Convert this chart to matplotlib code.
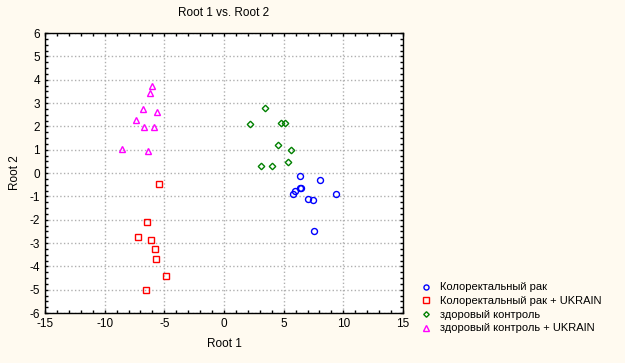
import matplotlib.pyplot as plt
from matplotlib.ticker import MultipleLocator

plt.rcParams['font.family'] = ['Liberation Sans', 'DejaVu Sans']
plt.rcParams['axes.unicode_minus'] = False

# data
kr_x = [6.40, 8.08, 6.46, 6.35, 5.98, 5.79, 9.42, 7.07, 7.49, 7.55]
kr_y = [-0.12, -0.31, -0.66, -0.66, -0.76, -0.89, -0.91, -1.12, -1.16, -2.50]

kru_x = [-5.42, -6.45, -7.20, -6.09, -5.78, -5.70, -4.86, -6.53]
kru_y = [-0.49, -2.09, -2.73, -2.87, -3.26, -3.70, -4.43, -5.02]

zk_x = [3.47, 2.21, 4.81, 5.09, 4.50, 5.65, 5.37, 3.08, 4.03]
zk_y = [2.77, 2.10, 2.16, 2.16, 1.19, 0.99, 0.46, 0.31, 0.31]

zku_x = [-6.00, -6.20, -6.81, -5.59, -7.35, -6.68, -5.84, -8.52, -6.34]
zku_y = [3.74, 3.42, 2.76, 2.60, 2.26, 1.96, 1.96, 1.03, 0.94]

labels = ['Колоректальный рак', 'Колоректальный рак + UKRAIN',
          'здоровый контроль', 'здоровый контроль + UKRAIN']

bg = '#fffaf0'
fig = plt.figure(figsize=(6.25, 3.63), dpi=100, facecolor=bg)
ax = fig.add_axes([45/625, 1 - 313/363, 358/625, 280/363])

h1, = ax.plot(kr_x, kr_y, 'o', ms=4.3, mfc='none', mec='#0000ff', mew=1)
h2, = ax.plot(kru_x, kru_y, 's', ms=4.3, mfc='none', mec='#ff0000', mew=1)
h3, = ax.plot(zk_x, zk_y, 'D', ms=3.3, mfc='none', mec='#008000', mew=1)
h4, = ax.plot(zku_x, zku_y, '^', ms=4.5, mfc='none', mec='#ff00ff', mew=1)

ax.set_xlim(-15, 15)
ax.set_ylim(-6, 6)
ax.xaxis.set_major_locator(MultipleLocator(5))
ax.xaxis.set_minor_locator(MultipleLocator(1))
ax.yaxis.set_major_locator(MultipleLocator(1))
ax.yaxis.set_minor_locator(MultipleLocator(0.25))
ax.tick_params(which='both', direction='in', top=True, right=True,
               length=2.5, width=1, labelsize=8.5)
ax.grid(True, which='major', color='#b0b0b0', linestyle=':', linewidth=1)
for s in ax.spines.values():
    s.set_linewidth(1)

ax.set_title('Root 1 vs. Root 2', fontsize=8.5, pad=12)
ax.set_xlabel('Root 1', fontsize=8.5, labelpad=6)
ax.set_ylabel('Root 2', fontsize=8.5, labelpad=6)

fig.legend([h1, h2, h3, h4], labels, loc='upper left',
           bbox_to_anchor=(416/625, 1 - 278/363), frameon=False,
           fontsize=8, handlelength=1, handletextpad=0.8,
           labelspacing=0.33, borderaxespad=0, markerscale=0.85)

plt.savefig('out.png', dpi=100, facecolor=bg)
